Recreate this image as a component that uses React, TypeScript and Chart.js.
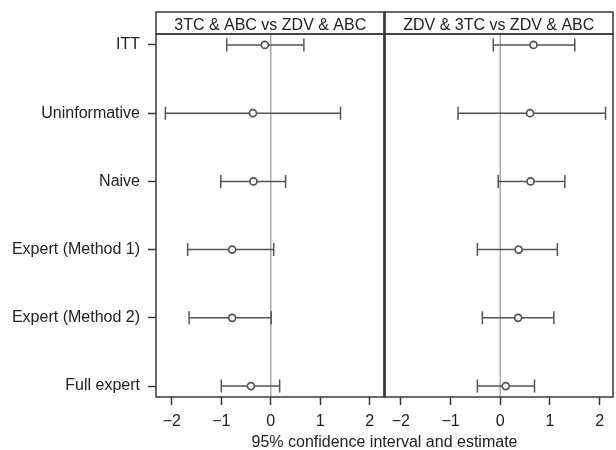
import React, { useEffect, useRef } from 'react';
import { Chart, registerables } from 'chart.js';

Chart.register(...registerables);

const categories = ['ITT', 'Uninformative', 'Naive', 'Expert (Method 1)', 'Expert (Method 2)', 'Full expert'];
const panelTitles = ['3TC & ABC vs ZDV & ABC', 'ZDV & 3TC vs ZDV & ABC'];
const xTicks = [-2, -1, 0, 1, 2];
const axisTitle = '95% confidence interval and estimate';

const leftLower = [-0.89, -2.13, -1.01, -1.68, -1.65, -1.0];
const leftEst = [-0.12, -0.36, -0.35, -0.78, -0.78, -0.4];
const leftUpper = [0.67, 1.41, 0.3, 0.06, 0.01, 0.18];

const rightLower = [-0.14, -0.85, -0.04, -0.46, -0.36, -0.46];
const rightEst = [0.67, 0.6, 0.61, 0.37, 0.36, 0.11];
const rightUpper = [1.5, 2.12, 1.3, 1.15, 1.08, 0.69];

const FONT = '"Liberation Sans", Arial, Helvetica, sans-serif';
const FONT_SIZE = 16;
const TEXT = '#222';
const BAR = '#555';
const BORDER = '#3a3a3a';

function buildDatasets(axisId: string, lo: number[], est: number[], hi: number[]) {
  const ds: any[] = [];
  ds.push({
    type: 'scatter',
    xAxisID: axisId,
    yAxisID: 'y',
    order: 0,
    data: est.map((v, i) => ({ x: v, y: i })),
    pointStyle: 'circle',
    pointRadius: 3.5,
    pointBorderWidth: 1.7,
    pointBackgroundColor: '#fff',
    pointBorderColor: BAR,
  });
  lo.forEach((l, i) => {
    ds.push({
      type: 'line',
      xAxisID: axisId,
      yAxisID: 'y',
      order: 1,
      data: [
        { x: l, y: i },
        { x: hi[i], y: i },
      ],
      showLine: true,
      borderColor: BAR,
      borderWidth: 1.5,
      pointStyle: 'line',
      pointRotation: 90,
      pointRadius: 6.5,
      pointBorderWidth: 1.5,
      pointBorderColor: BAR,
      pointBackgroundColor: BAR,
    });
  });
  return ds;
}

const fmt = (v: number) => (v < 0 ? '\u2212' + Math.abs(v) : String(v));

function xScale(min: number, max: number) {
  return {
    type: 'linear',
    position: 'bottom',
    stack: 'panels',
    stackWeight: 1,
    min,
    max,
    afterBuildTicks: (s: any) => {
      s.ticks = xTicks.map((v) => ({ value: v }));
    },
    afterFit: (s: any) => {
      s.height = 53;
      s.paddingLeft = 0;
      s.paddingRight = 0;
      s.paddingTop = 0;
      s.paddingBottom = 0;
    },
    ticks: {
      autoSkip: false,
      maxRotation: 0,
      minRotation: 0,
      padding: 7,
      color: TEXT,
      font: { family: FONT, size: FONT_SIZE },
      callback: (v: number) => fmt(v),
    },
    grid: { drawOnChartArea: false, tickLength: 8, color: BORDER, tickWidth: 1.5 },
    border: { display: false },
  };
}

const panelPlugin = {
  id: 'panels',
  beforeDatasetsDraw(chart: any) {
    const { ctx, chartArea } = chart;
    ['x1', 'x2'].forEach((id) => {
      const s = chart.scales[id];
      const px = s.getPixelForValue(0);
      ctx.save();
      ctx.strokeStyle = '#ababab';
      ctx.lineWidth = 1.5;
      ctx.beginPath();
      ctx.moveTo(px, chartArea.top);
      ctx.lineTo(px, chartArea.bottom);
      ctx.stroke();
      ctx.restore();
    });
  },
  afterDraw(chart: any) {
    const { ctx, chartArea } = chart;
    const stripTop = 12;
    ctx.save();
    ['x1', 'x2'].forEach((id, k) => {
      const s = chart.scales[id];
      ctx.fillStyle = '#fff';
      ctx.fillRect(s.left, stripTop, s.right - s.left, chartArea.top - stripTop);
      ctx.strokeStyle = BORDER;
      ctx.lineWidth = 1.5;
      ctx.strokeRect(s.left, stripTop, s.right - s.left, chartArea.top - stripTop);
      ctx.fillStyle = TEXT;
      ctx.font = `${FONT_SIZE}px ${FONT}`;
      ctx.textAlign = 'center';
      ctx.textBaseline = 'alphabetic';
      ctx.fillText(panelTitles[k], (s.left + s.right) / 2, 30);
      ctx.strokeRect(s.left, chartArea.top, s.right - s.left, chartArea.bottom - chartArea.top);
    });
    const mid = chart.scales.x1.right;
    ctx.lineWidth = 2.6;
    ctx.beginPath();
    ctx.moveTo(mid, stripTop);
    ctx.lineTo(mid, chartArea.bottom);
    ctx.stroke();
    ctx.fillStyle = TEXT;
    ctx.font = `${FONT_SIZE}px ${FONT}`;
    ctx.textAlign = 'center';
    ctx.fillText(axisTitle, (chartArea.left + chartArea.right) / 2, 447);
    ctx.restore();
  },
};

export default function App() {
  const ref = useRef<HTMLCanvasElement | null>(null);
  useEffect(() => {
    if (!ref.current) return;
    const chart = new Chart(ref.current, {
      type: 'scatter',
      data: {
        datasets: [
          ...buildDatasets('x1', leftLower, leftEst, leftUpper),
          ...buildDatasets('x2', rightLower, rightEst, rightUpper),
        ],
      },
      options: {
        animation: false,
        responsive: false,
        layout: { autoPadding: false, padding: { top: 34, right: 3, bottom: 0, left: 0 } },
        plugins: { legend: { display: false }, tooltip: { enabled: false } },
        scales: {
          x1: xScale(-2.32, 2.3),
          x2: xScale(-2.33, 2.27),
          y: {
            type: 'linear',
            position: 'left',
            reverse: true,
            min: -0.16,
            max: 5.16,
            afterBuildTicks: (s: any) => {
              s.ticks = categories.map((_, i) => ({ value: i }));
            },
            afterFit: (s: any) => {
              s.width = 156;
              s.paddingLeft = 0;
              s.paddingRight = 0;
              s.paddingTop = 0;
              s.paddingBottom = 0;
            },
            ticks: {
              autoSkip: false,
              padding: 8,
              color: TEXT,
              font: { family: FONT, size: FONT_SIZE },
              callback: (v: number) => categories[v],
            },
            grid: { drawOnChartArea: false, tickLength: 8, color: BORDER, tickWidth: 1.5 },
            border: { display: false },
          },
        },
      } as any,
      plugins: [panelPlugin],
    } as any);
    return () => chart.destroy();
  }, []);
  return (
    <div style={{ position: 'absolute', left: 0, top: 0, width: 616, height: 450 }}>
      <canvas ref={ref} width={616} height={450} />
    </div>
  );
}
